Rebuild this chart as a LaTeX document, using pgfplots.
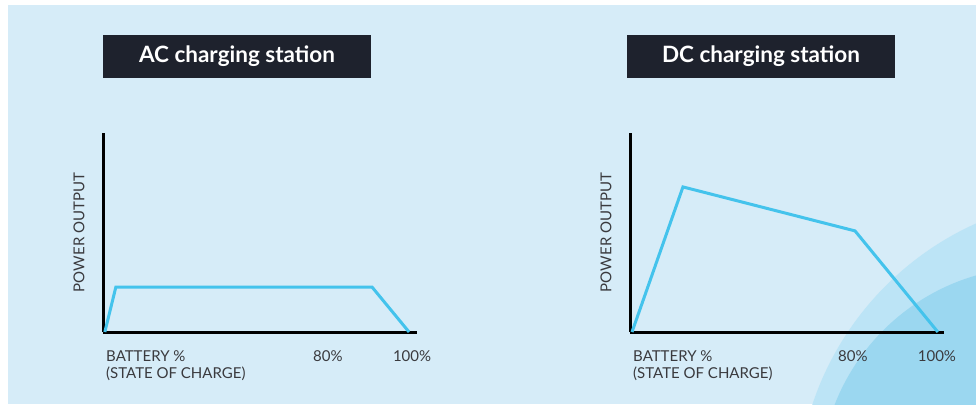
\documentclass[border=0pt]{standalone}
\usepackage{fontspec}
\setmainfont{Lato}
\usepackage{pgfplots}
\pgfplotsset{compat=1.18}

\definecolor{bgblue}{RGB}{214,236,248}
\definecolor{ringouter}{RGB}{188,228,246}
\definecolor{ringinner}{RGB}{155,215,240}
\definecolor{curve}{RGB}{68,195,236}
\definecolor{titlebox}{RGB}{30,34,45}
\definecolor{labelgray}{RGB}{58,58,62}

\pgfplotsset{
  chargeaxis/.style={
    scale only axis,
    width=314pt, height=199pt,
    anchor=south west,
    enlargelimits=false,
    ymin=0, ymax=100,
    axis lines=left,
    axis line style={-, line width=3pt, black},
    ytick=\empty,
    major tick length=0pt,
    /pgf/number format/assume math mode=true,
    xticklabel style={anchor=north, inner sep=0pt, yshift=-18pt,
      font=\fontsize{15}{17}\selectfont, text=labelgray},
    xlabel={BATTERY \%\\(STATE OF CHARGE)},
    xlabel style={at={(axis description cs:0,0)}, anchor=north west,
      inner sep=0pt, xshift=3pt, yshift=-18pt, align=left,
      font=\fontsize{15}{17}\selectfont, text=labelgray},
    ylabel={POWER OUTPUT},
    ylabel style={at={(axis description cs:-0.0764,0.5)}, anchor=center,
      inner sep=0pt, font=\fontsize{15}{17}\selectfont, text=labelgray},
    clip=false,
  },
  chargecurve/.style={curve, line width=3pt, line join=miter, no marks},
}

\begin{document}
\begin{tikzpicture}[x=1pt, y=1pt]
  \useasboundingbox (0,0) rectangle (976,408);
  \fill[white] (0,0) rectangle (976,408);
  \fill[bgblue] (8,4) rectangle (976,403);
  % decorative rings in the lower right corner
  \begin{scope}
    \clip (8,4) rectangle (976,403);
    \fill[ringouter] (1100,-92) circle[radius=303];
    \fill[ringinner] (1036,-75) circle[radius=216];
  \end{scope}

  % title boxes
  \fill[titlebox] (103,330) rectangle (371,373);
  \node[text=white, font=\fontsize{22.5}{26}\selectfont\bfseries] at (237,351.5) {AC charging station};
  \fill[titlebox] (627,330) rectangle (895,373);
  \node[text=white, font=\fontsize{22.5}{26}\selectfont\bfseries] at (761,351.5) {DC charging station};

  % AC: short ramp, long flat plateau, taper at the end
  \begin{axis}[chargeaxis, at={(103pt,76pt)}, xmin=0, xmax=102.6,
      xtick={73.5,101}, xticklabels={80\%,100\%}]
    \addplot[chargecurve] coordinates {(0.6,0) (4.2,22.6) (87.9,22.6) (100,0)};
  \end{axis}

  % DC: fast rise to a peak, gradual decline, steep drop after 80%
  \begin{axis}[chargeaxis, at={(630pt,76pt)}, xmin=0, xmax=102,
      xtick={72.4,99.7}, xticklabels={80\%,100\%}]
    \addplot[chargecurve] coordinates {(0.65,0) (17.2,72.9) (73.1,50.8) (100,0)};
  \end{axis}
\end{tikzpicture}
\end{document}
